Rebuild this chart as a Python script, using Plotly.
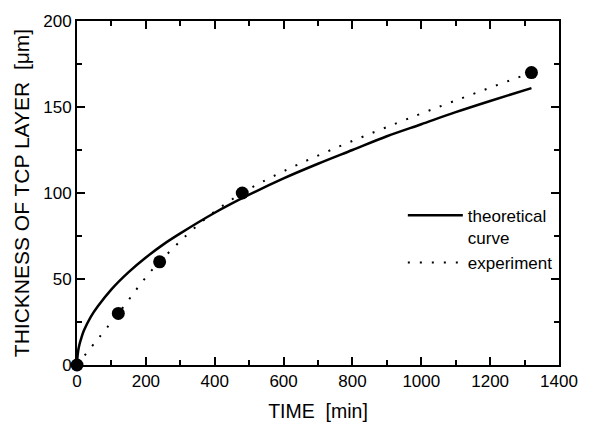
import plotly.graph_objects as go

# Theoretical curve
theory_t = [0, 2, 5, 10, 20, 40, 60, 100, 150, 200, 250, 300, 400, 500, 600, 700,
            800, 900, 1000, 1100, 1200, 1320]
theory_y = [0, 6, 10, 14, 20, 28, 34, 44, 54, 62.5, 70, 76.5, 88.5, 99, 108.5, 117,
            125, 133, 140, 147, 153.5, 161]

# Experimental points
exp_t = [0, 120, 240, 480, 1320]
exp_y = [0, 30, 60, 100, 170]

x_ticks = list(range(0, 1401, 200))
y_ticks = list(range(0, 201, 50))

FONT = "Liberation Sans, Arial, sans-serif"

fig = go.Figure()
fig.add_trace(go.Scatter(x=theory_t, y=theory_y, mode="lines",
                         line=dict(color="black", width=2.5, shape="spline"),
                         name="theoretical<br>curve"))
fig.add_trace(go.Scatter(x=exp_t, y=exp_y, mode="lines",
                         line=dict(color="black", width=2, shape="spline",
                                   dash="2px,10px"),
                         name="experiment"))
fig.add_trace(go.Scatter(x=exp_t, y=exp_y, mode="markers",
                         marker=dict(color="black", size=13),
                         showlegend=False, cliponaxis=False))

axis_common = dict(
    showline=True, linecolor="black", linewidth=2, mirror="allticks",
    ticks="inside", ticklen=8, tickwidth=2, tickcolor="black",
    showgrid=False, zeroline=False,
    tickfont=dict(family=FONT, size=17, color="black"),
)

fig.update_xaxes(range=[0, 1400], tickvals=x_ticks,
                 minor=dict(dtick=100, ticks="inside", ticklen=5, tickwidth=2,
                            tickcolor="black"),
                 title=dict(text="TIME  [min]", font=dict(family=FONT, size=19.5, color="black"),
                            standoff=14),
                 **axis_common)
fig.update_yaxes(range=[0, 200], tickvals=y_ticks,
                 minor=dict(dtick=25, ticks="inside", ticklen=5, tickwidth=2,
                            tickcolor="black"),
                 title=dict(text="THICKNESS OF TCP LAYER  [μm]",
                            font=dict(family=FONT, size=21, color="black"),
                            standoff=8),
                 **axis_common)

fig.update_layout(
    width=610, height=431,
    margin=dict(l=77, r=51, t=19, b=65),
    plot_bgcolor="white", paper_bgcolor="white",
    showlegend=True,
    legend=dict(x=0.676, y=0.486, xanchor="left", yanchor="top",
                font=dict(family=FONT, size=17, color="black"),
                bgcolor="rgba(0,0,0,0)", itemwidth=55, valign="top"),
)

fig.write_html("out.html")
